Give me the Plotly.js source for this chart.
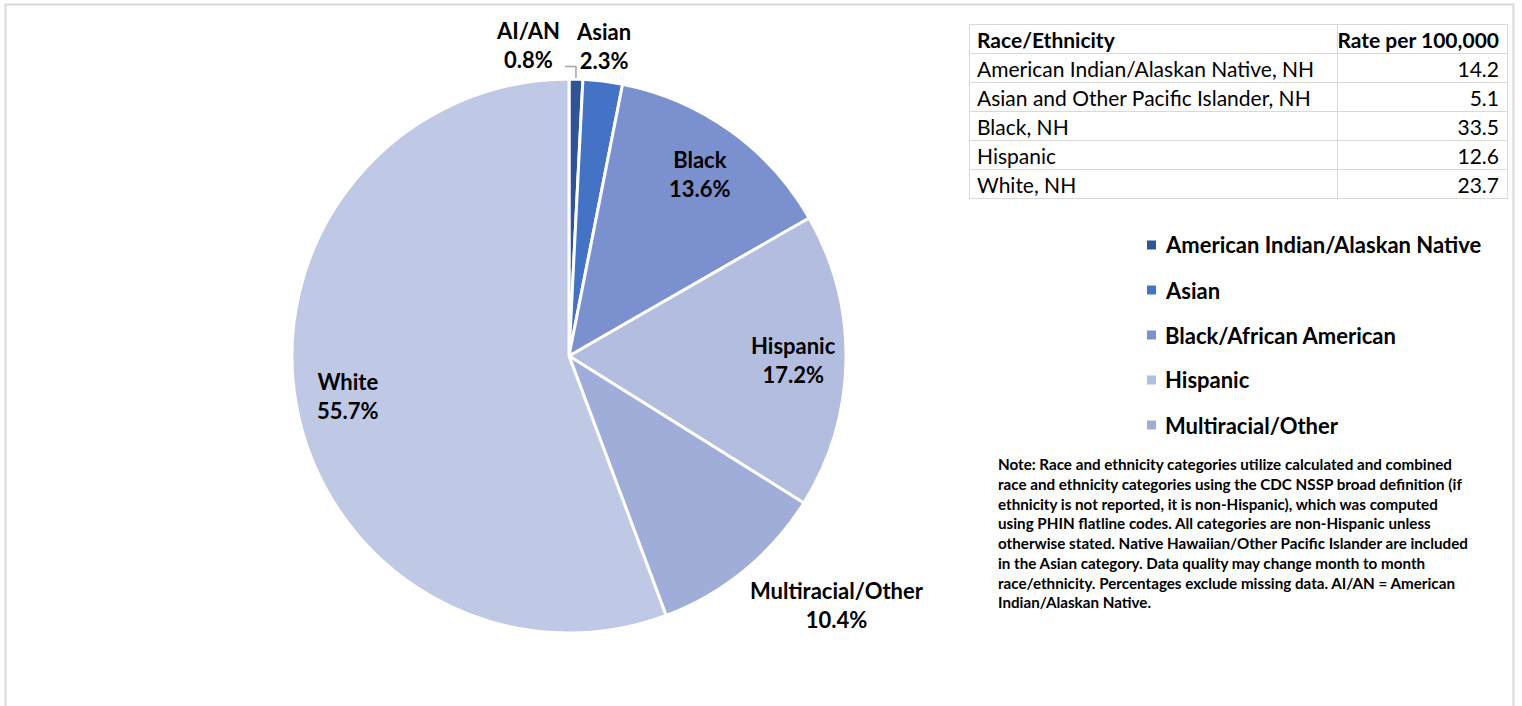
<!DOCTYPE html>
<html>
<head>
<meta charset="utf-8">
<script src="https://cdn.plot.ly/plotly-3.0.1.min.js"></script>
<style>
  html, body { margin: 0; padding: 0; background: #ffffff; }
  #chart { width: 1522px; height: 706px; }
</style>
</head>
<body>
<div id="chart"></div>
<script>
// ---- Data ----
const sliceLabels = ["AI/AN", "Asian", "Black", "Hispanic", "Multiracial/Other", "White"];
const slicePercents = [0.8, 2.3, 13.6, 17.2, 10.4, 55.7];
const sliceColors = ["#2F5597", "#4472C4", "#7B91CF", "#B3BDDF", "#9FADD8", "#BFC8E4"];

const legendLabels = ["American Indian/Alaskan Native", "Asian", "Black/African American", "Hispanic", "Multiracial/Other"];
const legendColors = ["#2F5597", "#4472C4", "#7B91CF", "#B3BDDF", "#9FADD8"];

const tableHeader = ["Race/Ethnicity", "Rate per 100,000"];
const tableGroups = ["American Indian/Alaskan Native, NH", "Asian and Other Pacific Islander, NH", "Black, NH", "Hispanic", "White, NH"];
const tableRates = ["14.2", "5.1", "33.5", "12.6", "23.7"];

const noteText = "Note: Race and ethnicity categories utilize calculated and combined<br>" +
  "race and ethnicity categories using the CDC NSSP broad definition (if<br>" +
  "ethnicity is not reported, it is non-Hispanic), which was computed<br>" +
  "using PHIN flatline codes. All categories are non-Hispanic unless<br>" +
  "otherwise stated. Native Hawaiian/Other Pacific Islander are included<br>" +
  "in the Asian category. Data quality may change month to month<br>" +
  "race/ethnicity. Percentages exclude missing data. AI/AN = American<br>" +
  "Indian/Alaskan Native.";

// label placement style: "in" = inside, "out" = outside end, "leader" = pulled left with leader line
const labelPlacement = ["leader", "out", "in", "in", "out", "in"];

// ---- Layout helpers ----
const W = 1522, H = 706;
const px = x => x / W;
const py = y => 1 - y / H;
const FONT = "Lato, 'Open Sans', sans-serif";
const nb = s => s.replace(/ /g, "\u00a0");

// pie geometry (pixels)
const CX = 569, CY = 356, R = 277;

const pie = {
  type: "pie",
  labels: sliceLabels,
  values: slicePercents,
  sort: false,
  direction: "clockwise",
  rotation: 0,
  marker: { colors: sliceColors, line: { color: "#ffffff", width: 3 } },
  textinfo: "none",
  hoverinfo: "label+percent",
  showlegend: false,
  domain: { x: [px(CX - R), px(CX + R)], y: [py(CY + R), py(CY - R)] }
};

const table = {
  type: "table",
  domain: { x: [px(969), px(1507)], y: [py(205), py(24)] },
  columnwidth: [368, 170],
  header: {
    values: tableHeader.map(nb),
    align: ["left", "right"],
    height: 29,
    fill: { color: "#ffffff" },
    line: { color: "#D9D9D9", width: 1 },
    font: { family: FONT, size: 21, color: "#000000", weight: "bold" }
  },
  cells: {
    values: [tableGroups.map(nb), tableRates],
    align: ["left", "right"],
    height: 29,
    fill: { color: "#ffffff" },
    line: { color: "#D9D9D9", width: 1 },
    font: { family: FONT, size: 21, color: "#000000" }
  }
};

const annotations = [];
const shapes = [];

// data labels computed from the slice angles
const total = slicePercents.reduce((a, b) => a + b, 0);
let cum = 0;
slicePercents.forEach((v, i) => {
  const midDeg = (cum + v / 2) / total * 360;
  cum += v;
  const a = midDeg * Math.PI / 180;
  const s = Math.sin(a), c = Math.cos(a);
  const txt = "<b>" + sliceLabels[i] + "<br>" + v.toFixed(1) + "%</b>";
  const font = { family: FONT, size: 22, color: "#000000" };
  if (labelPlacement[i] === "in") {
    const rr = 0.81 * R;
    annotations.push({ xref: "paper", yref: "paper", x: px(CX + rr * s), y: py(CY - rr * c),
      xanchor: "center", yanchor: "middle", showarrow: false, text: txt, font: font });
  } else if (labelPlacement[i] === "out") {
    const rr = 1.02 * R;
    const xa = Math.abs(s) < 0.3 ? "center" : (s > 0 ? "left" : "right");
    const ya = Math.abs(c) < 0.3 ? "middle" : (c > 0 ? "bottom" : "top");
    annotations.push({ xref: "paper", yref: "paper", x: px(CX + rr * s), y: py(CY - rr * c),
      xanchor: xa, yanchor: ya, showarrow: false, text: txt, font: font });
  } else {
    // label pulled to the left of the slice with an elbow leader line
    const ex = CX + R * s, ey = CY - R * c;
    const ly = CY - 1.045 * R;
    shapes.push({ type: "path", xref: "paper", yref: "paper",
      path: "M " + px(ex) + " " + py(ey - 1) + " L " + px(ex) + " " + py(ly) + " L " + px(ex - 11) + " " + py(ly),
      line: { color: "#A6A6A6", width: 1.5 } });
    annotations.push({ xref: "paper", yref: "paper", x: px(ex - 14), y: py(ly + 8),
      xanchor: "right", yanchor: "bottom", showarrow: false, text: txt, font: font });
  }
});

// outer border
shapes.push({ type: "rect", xref: "paper", yref: "paper",
  x0: px(5.5), x1: px(1513.5), y0: py(730), y1: py(4.5),
  line: { color: "#D9D9D9", width: 2 }, fillcolor: "rgba(0,0,0,0)" });

// custom legend
legendLabels.forEach((lab, i) => {
  const yc = 245 + i * 45;
  shapes.push({ type: "rect", xref: "paper", yref: "paper",
    x0: px(1147), x1: px(1156), y0: py(yc + 4.5), y1: py(yc - 4.5),
    line: { width: 0 }, fillcolor: legendColors[i] });
  annotations.push({ xref: "paper", yref: "paper", x: px(1163), y: py(yc),
    xanchor: "left", yanchor: "middle", showarrow: false,
    text: "<b>" + lab + "</b>",
    font: { family: FONT, size: 22, color: "#000000" } });
});

// note
annotations.push({ xref: "paper", yref: "paper", x: px(996), y: py(453),
  xanchor: "left", yanchor: "top", align: "left", showarrow: false,
  text: "<b>" + noteText + "</b>",
  font: { family: FONT, size: 15.2, color: "#000000" } });

const layout = {
  width: W, height: H,
  margin: { l: 0, r: 0, t: 0, b: 0 },
  paper_bgcolor: "#ffffff",
  plot_bgcolor: "#ffffff",
  showlegend: false,
  shapes: shapes,
  annotations: annotations
};

Plotly.newPlot("chart", [pie, table], layout, { displayModeBar: false, staticPlot: true });
</script>
</body>
</html>
